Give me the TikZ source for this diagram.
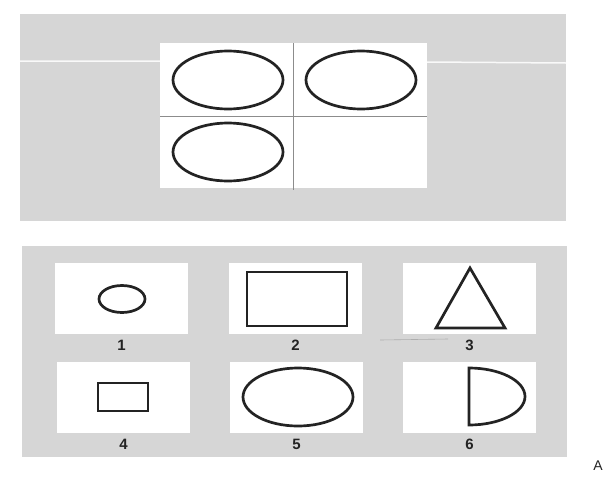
\documentclass[tikz,border=0pt]{standalone}
\usepackage{fontspec}
\setmainfont{Liberation Sans}
\usetikzlibrary{positioning}
\definecolor{fondo}{RGB}{214,214,214}
\definecolor{trazo}{RGB}{35,35,35}
\definecolor{linea}{RGB}{140,140,140}

\begin{document}
\begin{tikzpicture}[x=1pt,y=-1pt,
    figura/.style={trazo,line width=2.7pt},
    etiqueta/.style={font=\bfseries\fontsize{15}{15}\selectfont,trazo}]
        \useasboundingbox (0,0) rectangle (605,477);
        \fill[fondo] (20,14) rectangle (566,221);
        \fill[fondo] (22,246) rectangle (567,457);
        \draw[white!85!fondo,line width=1.5pt] (20,61) -- (160,61) (427,62) -- (566,63);
        \fill[white] (160,43) rectangle (427,188);
        \draw[linea,line width=0.8pt] (293,43) -- (293,190) (160,116) -- (427,116);
        \foreach \x/\y in {228/80,361/80,228/152}
          \draw[figura] (\x,\y) ellipse [x radius=55,y radius=29];
        \foreach \x/\y/\n in {55/263/1,229/263/2,403/263/3,57/362/4,230/362/5,403/362/6}{
          \fill[white] (\x,\y) rectangle ++(133,71);
          \node[etiqueta] (num\n) at (\x+66.5,\y+82) {\n};
        }
        \draw[linea!70,line width=0.6pt] (380,340) -- (448,339);
        \draw[figura] (122,299) ellipse [x radius=23,y radius=13.5];
        \draw[figura] (247,272) rectangle (347,326);
        \draw[figura,line join=miter] (470,268) -- (505,328) -- (436,328) -- cycle;
        \draw[figura] (98,383) rectangle (148,411);
        \draw[figura] (298,397) ellipse [x radius=55,y radius=29];
        \draw[figura] (469,425) -- (469,368) arc[start angle=-90,end angle=90,x radius=56,y radius=28.5] -- cycle;
        \node[font=\fontsize{14}{14}\selectfont,trazo] (marca) at (598,466) {A};
      \end{tikzpicture}
\end{document}
